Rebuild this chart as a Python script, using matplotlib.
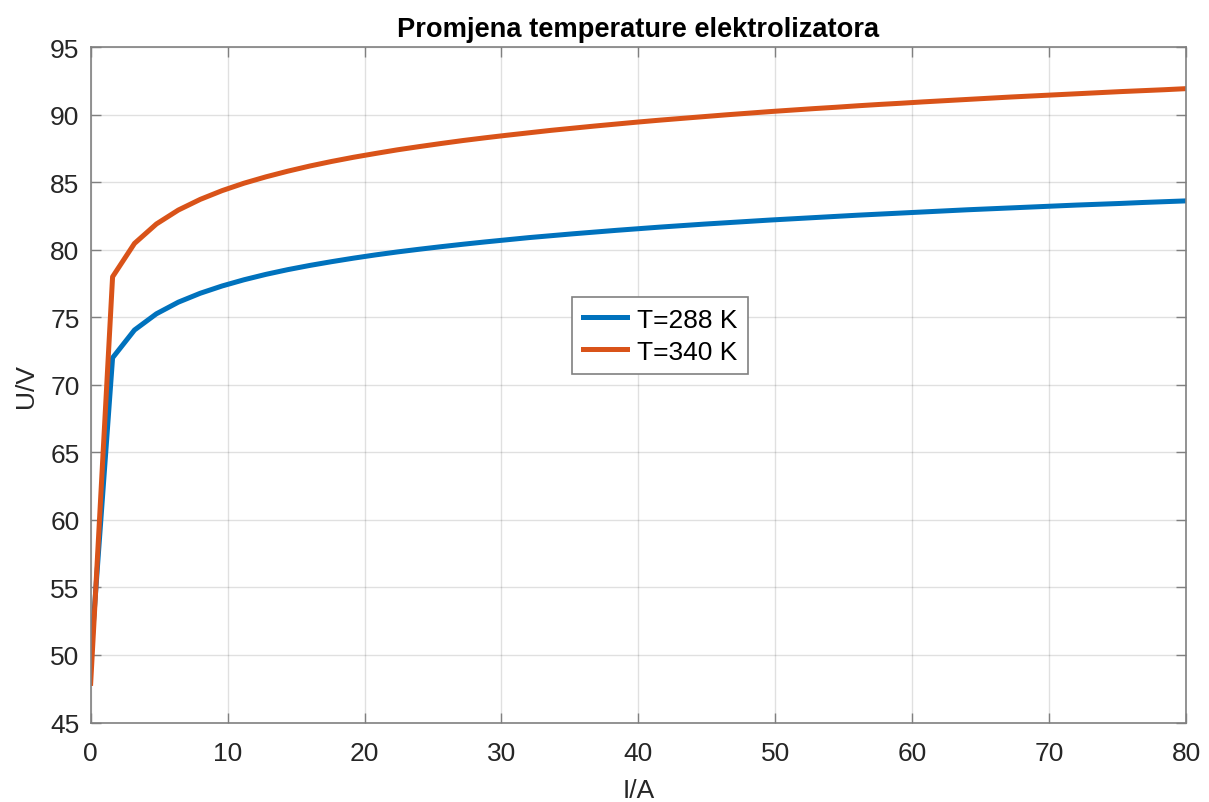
import matplotlib
import matplotlib.pyplot as plt
import numpy as np

matplotlib.use("Agg")

# Current axis (A), 51 samples from 0 to 80
current_a = np.linspace(0, 80, 51)

# Voltage (V)
voltage_288k = [
    49.6, 72.00, 74.06, 75.26, 76.12, 76.78, 77.32, 77.78, 78.18, 78.53, 78.84,
    79.12, 79.38, 79.62, 79.84, 80.04, 80.23, 80.41, 80.58, 80.74, 80.90,
    81.04, 81.18, 81.31, 81.44, 81.56, 81.68, 81.79, 81.90, 82.00, 82.10,
    82.20, 82.29, 82.38, 82.47, 82.56, 82.64, 82.72, 82.80, 82.88, 82.96,
    83.03, 83.10, 83.17, 83.24, 83.31, 83.37, 83.43, 83.50, 83.56, 83.62,
]
voltage_340k = [
    47.9, 78.00, 80.47, 81.91, 82.94, 83.73, 84.38, 84.93, 85.40, 85.82, 86.20,
    86.54, 86.85, 87.13, 87.40, 87.64, 87.87, 88.09, 88.29, 88.48, 88.66,
    88.84, 89.00, 89.16, 89.31, 89.46, 89.60, 89.73, 89.86, 89.99, 90.11,
    90.23, 90.34, 90.45, 90.55, 90.66, 90.76, 90.85, 90.95, 91.04, 91.13,
    91.22, 91.31, 91.39, 91.47, 91.55, 91.63, 91.71, 91.78, 91.85, 91.93,
]
series_labels = ["T=288 K", "T=340 K"]
x_ticks = list(range(0, 81, 10))
y_ticks = list(range(45, 96, 5))

plt.rcParams["font.family"] = ["Liberation Sans", "DejaVu Sans"]

fig = plt.figure(figsize=(12.09, 8.03), dpi=100)
ax = fig.add_axes([0.075, 0.099, 0.906, 0.841])

ax.plot(current_a, voltage_288k, color="#0072BD", linewidth=3.6, label=series_labels[0])
ax.plot(current_a, voltage_340k, color="#D95319", linewidth=3.6, label=series_labels[1])

ax.set_xlim(0, 80)
ax.set_ylim(45, 95)
ax.set_xticks(x_ticks)
ax.set_yticks(y_ticks)

# MATLAB-like look
axis_gray = "#262626"
for spine in ax.spines.values():
    spine.set_color("#808080")
    spine.set_linewidth(1.2)
ax.tick_params(direction="in", length=7, width=1.0, color="#808080",
               labelcolor=axis_gray, labelsize=19, top=True, right=True)
ax.tick_params(axis="x", pad=13)
ax.tick_params(axis="y", pad=8)
ax.grid(True, color="#000000", alpha=0.12, linewidth=1.0)

ax.set_xlabel("I/A", fontsize=19, color=axis_gray, labelpad=10)
ax.set_ylabel("U/V", fontsize=19, color=axis_gray, labelpad=9)
ax.set_title("Promjena temperature elektrolizatora", fontsize=19.6,
             fontweight="bold", pad=8)

leg = ax.legend(loc="center", bbox_to_anchor=(0.520, 0.573), fontsize=19,
                fancybox=False, framealpha=1, edgecolor="#808080",
                handlelength=1.65, handletextpad=0.4, borderpad=0.4,
                labelspacing=0.3, borderaxespad=0)
leg.get_frame().set_linewidth(1.2)

fig.savefig("out.png", dpi=100)
plt.close(fig)
